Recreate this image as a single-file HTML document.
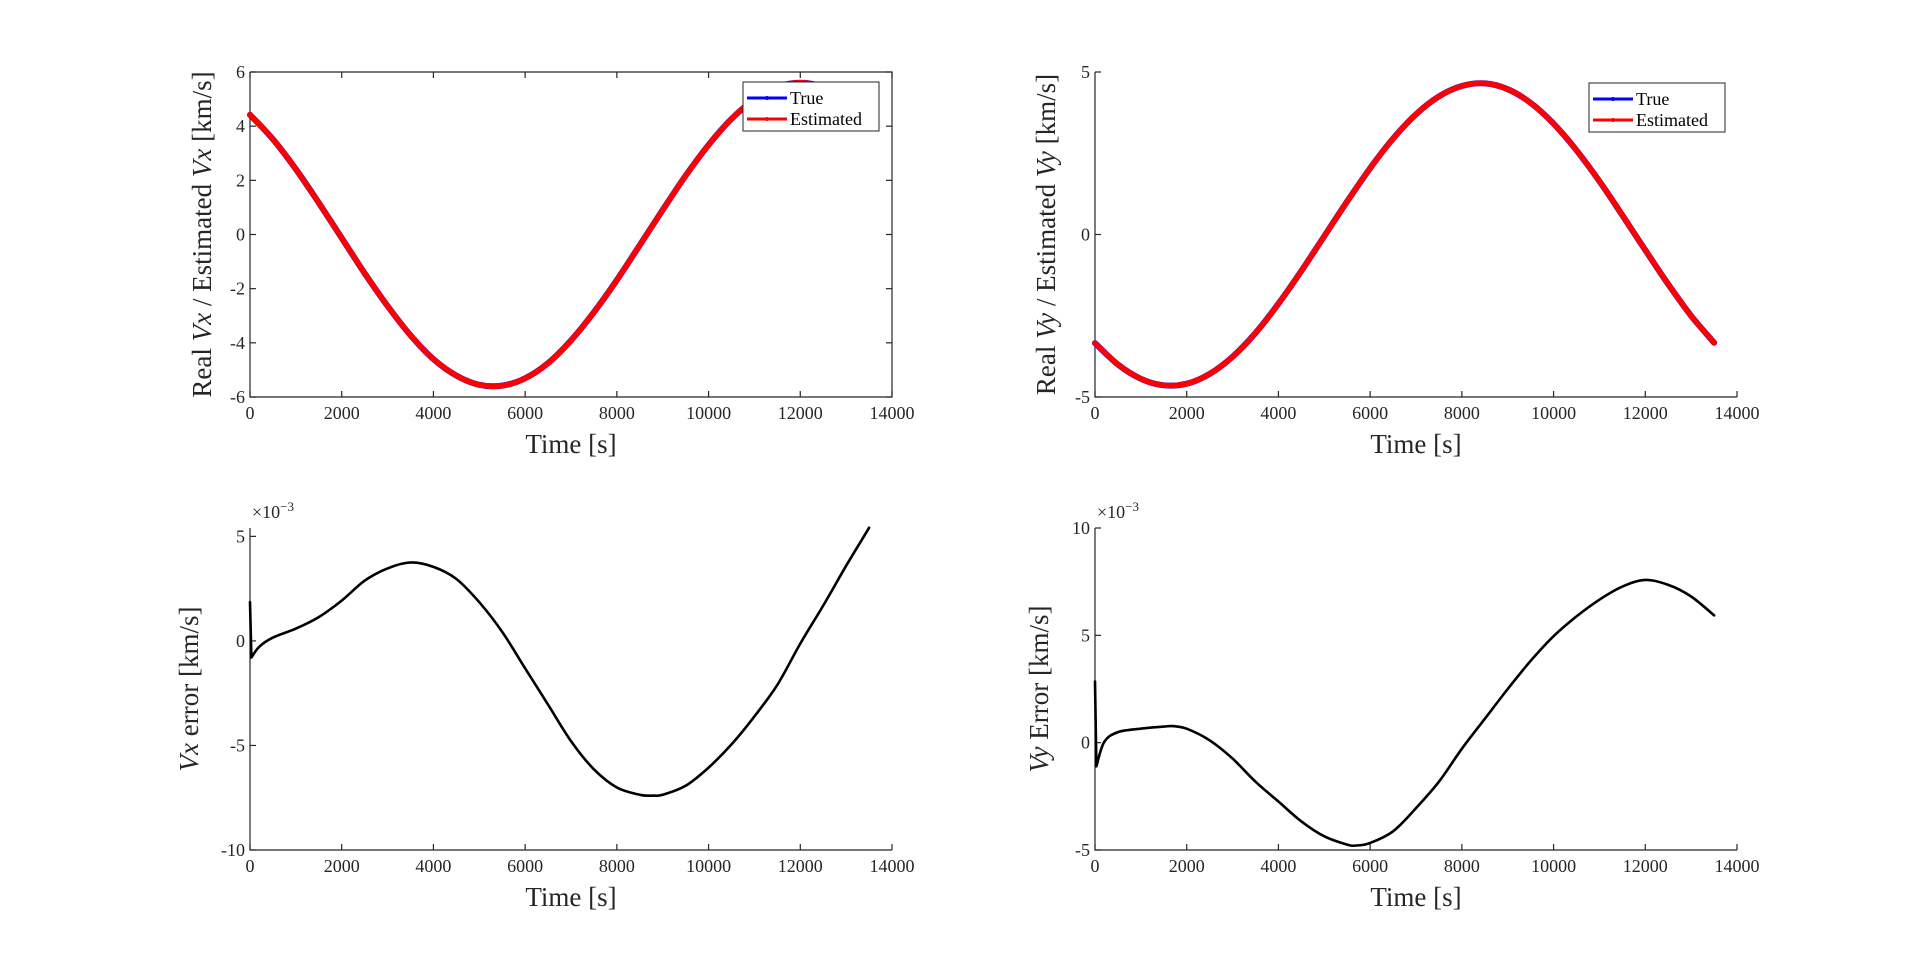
<!DOCTYPE html>
<html><head><meta charset="utf-8"><style>
html,body{margin:0;padding:0;background:#fff;}
svg{display:block;font-family:"Liberation Serif",serif;}
</style></head><body>
<svg id="fig" width="1920" height="955" viewBox="0 0 1920 955" xmlns="http://www.w3.org/2000/svg"></svg>
<script>
// ---- data ----
const tVx = [0,500,1000,1500,2000,2500,3000,3500,4000,4500,5000,5500,6000,6500,7000,7500,8000,8500,9000,9500,10000,10500,11000,11500,12000,12500,13000,13500];
const vxTrue = [4.42,3.52,2.41,1.17,-0.13,-1.43,-2.64,-3.72,-4.60,-5.21,-5.55,-5.58,-5.31,-4.75,-3.91,-2.87,-1.68,-0.39,0.91,2.17,3.31,4.27,4.99,5.45,5.60,5.45,4.99,4.27];
const vxEst  = [4.42,3.52,2.41,1.17,-0.13,-1.43,-2.64,-3.72,-4.60,-5.21,-5.55,-5.58,-5.31,-4.75,-3.91,-2.87,-1.68,-0.39,0.91,2.17,3.31,4.27,4.99,5.45,5.60,5.45,4.99,4.27];
const tVy = [0,500,1000,1500,2000,2500,3000,3500,4000,4500,5000,5500,6000,6500,7000,7500,8000,8500,9000,9500,10000,10500,11000,11500,12000,12500,13000,13500];
const vyTrue = [-3.34,-4.00,-4.44,-4.64,-4.59,-4.29,-3.76,-3.03,-2.13,-1.12,-0.05,1.02,2.04,2.95,3.70,4.25,4.57,4.65,4.47,4.05,3.41,2.59,1.64,0.59,-0.48,-1.53,-2.50,-3.33];
const vyEst  = [-3.34,-4.00,-4.44,-4.64,-4.59,-4.29,-3.76,-3.03,-2.13,-1.12,-0.05,1.02,2.04,2.95,3.70,4.25,4.57,4.65,4.47,4.05,3.41,2.59,1.64,0.59,-0.48,-1.53,-2.50,-3.33];
const tErrX = [0,30,200,500,1000,1500,2000,2500,3000,3500,4000,4500,5000,5500,6000,6500,7000,7500,8000,8500,8800,9000,9500,10000,10500,11000,11500,12000,12500,13000,13500];
const vxErr = [1.85,-0.80,-0.28,0.16,0.59,1.14,1.93,2.88,3.47,3.75,3.54,2.96,1.85,0.43,-1.31,-3.05,-4.79,-6.14,-7.01,-7.36,-7.40,-7.36,-6.93,-6.06,-4.95,-3.61,-2.10,-0.13,1.69,3.59,5.41];
const tErrY = [0,30,200,500,1000,1500,1700,2000,2500,3000,3500,4000,4500,5000,5500,5700,6000,6500,7000,7500,8000,8500,9000,9500,10000,10500,11000,11500,12000,12500,13000,13500];
const vyErr = [2.85,-1.10,0.03,0.49,0.65,0.75,0.77,0.65,0.11,-0.74,-1.82,-2.74,-3.67,-4.36,-4.75,-4.79,-4.67,-4.13,-3.05,-1.82,-0.28,1.11,2.50,3.81,4.96,5.88,6.66,7.27,7.58,7.35,6.81,5.93];
const xTicks = [0,2000,4000,6000,8000,10000,12000,14000];
const yTicksVx = [-6,-4,-2,0,2,4,6];
const yTicksVy = [-5,0,5];
const yTicksEx = [-10,-5,0,5];
const yTicksEy = [-5,0,5,10];

const NS="http://www.w3.org/2000/svg";
const svg=document.getElementById('fig');
function mk(tag,attrs,parent){const e=document.createElementNS(NS,tag);for(const k in attrs)e.setAttribute(k,attrs[k]);(parent||svg).appendChild(e);return e;}

function smoothPath(P,linearUpTo){
  let d='M'+P[0][0].toFixed(1)+','+P[0][1].toFixed(1);
  for(let i=0;i<P.length-1;i++){
    const p1=P[i],p2=P[i+1];
    if(i<linearUpTo){d+='L'+p2[0].toFixed(1)+','+p2[1].toFixed(1);continue;}
    const p0=(i-1>=linearUpTo)?P[i-1]:p1, p3=P[i+2]||p2;
    const c1=[p1[0]+(p2[0]-p0[0])/6,p1[1]+(p2[1]-p0[1])/6];
    const c2=[p2[0]-(p3[0]-p1[0])/6,p2[1]-(p3[1]-p1[1])/6];
    d+='C'+c1[0].toFixed(1)+','+c1[1].toFixed(1)+' '+c2[0].toFixed(1)+','+c2[1].toFixed(1)+' '+p2[0].toFixed(1)+','+p2[1].toFixed(1);
  }
  return d;
}

function axes(cfg){
  const g=mk('g',{});
  
  
  const L=cfg.x0,R=cfg.x1,T=cfg.y0,B=cfg.y1;
  const sx=v=>L+(v-0)/(14000-0)*(R-L);
  const sy=v=>B-(v-cfg.ymin)/(cfg.ymax-cfg.ymin)*(B-T);
  const ax=mk('path',{d:`M${L},${T}V${B}H${R}`+(cfg.box?`V${T}H${L}`:''),fill:'none',stroke:'#262626','stroke-width':1.2},g);
  
  
  xTicks.forEach(v=>{
    const x=sx(v);
    mk('line',{x1:x,x2:x,y1:B,y2:B-6,stroke:'#262626','stroke-width':1.2},g);
    if(cfg.box)mk('line',{x1:x,x2:x,y1:T,y2:T+6,stroke:'#262626','stroke-width':1.2},g);
    const t=mk('text',{x:x,y:B+22,'text-anchor':'middle','font-size':18,fill:'#262626'},g);
    t.textContent=v;
    
    
  });
  cfg.yt.forEach(v=>{
    const y=sy(v);
    mk('line',{x1:L,x2:L+6,y1:y,y2:y,stroke:'#262626','stroke-width':1.2},g);
    if(cfg.box)mk('line',{x1:R,x2:R-6,y1:y,y2:y,stroke:'#262626','stroke-width':1.2},g);
    const t=mk('text',{x:L-5,y:y+6,'text-anchor':'end','font-size':18,fill:'#262626'},g);
    t.textContent=v;
    
    
  });
  cfg.series.forEach(s=>{
    const P=s.t.map((tv,i)=>[sx(tv),sy(s.v[i])]);
    const p=mk('path',{d:smoothPath(P,s.lin||0),fill:'none',stroke:s.color,'stroke-width':s.w,'stroke-linejoin':'round','stroke-linecap':'round'},g);
    
    
  });
  const xl=mk('text',{x:(L+R)/2,y:B+56,'text-anchor':'middle','font-size':27,fill:'#262626'},g);
  xl.textContent='Time [s]';
  
  
  const yl=mk('text',{x:0,y:0,'text-anchor':'middle','font-size':27,fill:'#262626',transform:`translate(${cfg.ylx},${(T+B)/2}) rotate(-90)`},g);
  yl.innerHTML=cfg.ylabel;
  
  
  if(cfg.exp){
    const ex=mk('text',{x:L+2,y:T-10,'font-size':18,fill:'#262626'},g);
    ex.innerHTML='×10<tspan dy="-7" font-size="13">−3</tspan>';
    
    
  }
  if(cfg.legend){
    const lg=mk('g',{},g);
    
    
    const lx=cfg.legend[0],ly=cfg.legend[1];
    mk('rect',{x:lx,y:ly,width:136,height:49,fill:'#fff',stroke:'#262626','stroke-width':1},lg);
    [['True','#0000ff',16],['Estimated','#ff0000',37]].forEach(e=>{
      const en=mk('g',{},lg);
      
      
      mk('line',{x1:lx+4,x2:lx+44,y1:ly+e[2],y2:ly+e[2],stroke:e[1],'stroke-width':3},en);
      mk('circle',{cx:lx+24,cy:ly+e[2],r:2,fill:e[1]},en);
      const t=mk('text',{x:lx+47,y:ly+e[2]+6,'font-size':18,fill:'#000'},en);
      t.textContent=e[0];
    });
  }
}

axes({name:'vx-comparison-axes',x0:250,x1:892,y0:72,y1:397,ymin:-6,ymax:6,yt:yTicksVx,box:true,ylx:211,
  ylabel:'Real <tspan font-style="italic">Vx</tspan> / Estimated <tspan font-style="italic">Vx</tspan> [km/s]',
  series:[{name:'vx-true-line',t:tVx,v:vxTrue,color:'#0000ff',w:6},{name:'vx-estimated-line',t:tVx,v:vxEst,color:'#ff0000',w:5.5}],
  legend:[743,82]});
axes({name:'vy-comparison-axes',x0:1095,x1:1737,y0:72,y1:397,ymin:-5,ymax:5,yt:yTicksVy,box:false,ylx:1055,
  ylabel:'Real <tspan font-style="italic">Vy</tspan> / Estimated <tspan font-style="italic">Vy</tspan> [km/s]',
  series:[{name:'vy-true-line',t:tVy,v:vyTrue,color:'#0000ff',w:6},{name:'vy-estimated-line',t:tVy,v:vyEst,color:'#ff0000',w:5.5}],
  legend:[1589,83]});
axes({name:'vx-error-axes',x0:250,x1:892,y0:528,y1:850,ymin:-10,ymax:5.4,yt:yTicksEx,box:false,ylx:198,exp:true,
  ylabel:'<tspan font-style="italic">Vx</tspan> error [km/s]',
  series:[{name:'vx-error-line',t:tErrX,v:vxErr,color:'#000',w:2.6,lin:1}]});
axes({name:'vy-error-axes',x0:1095,x1:1737,y0:528,y1:850,ymin:-5,ymax:10,yt:yTicksEy,box:false,ylx:1048,exp:true,
  ylabel:'<tspan font-style="italic">Vy</tspan> Error [km/s]',
  series:[{name:'vy-error-line',t:tErrY,v:vyErr,color:'#000',w:2.6,lin:1}]});
</script>
</body></html>
